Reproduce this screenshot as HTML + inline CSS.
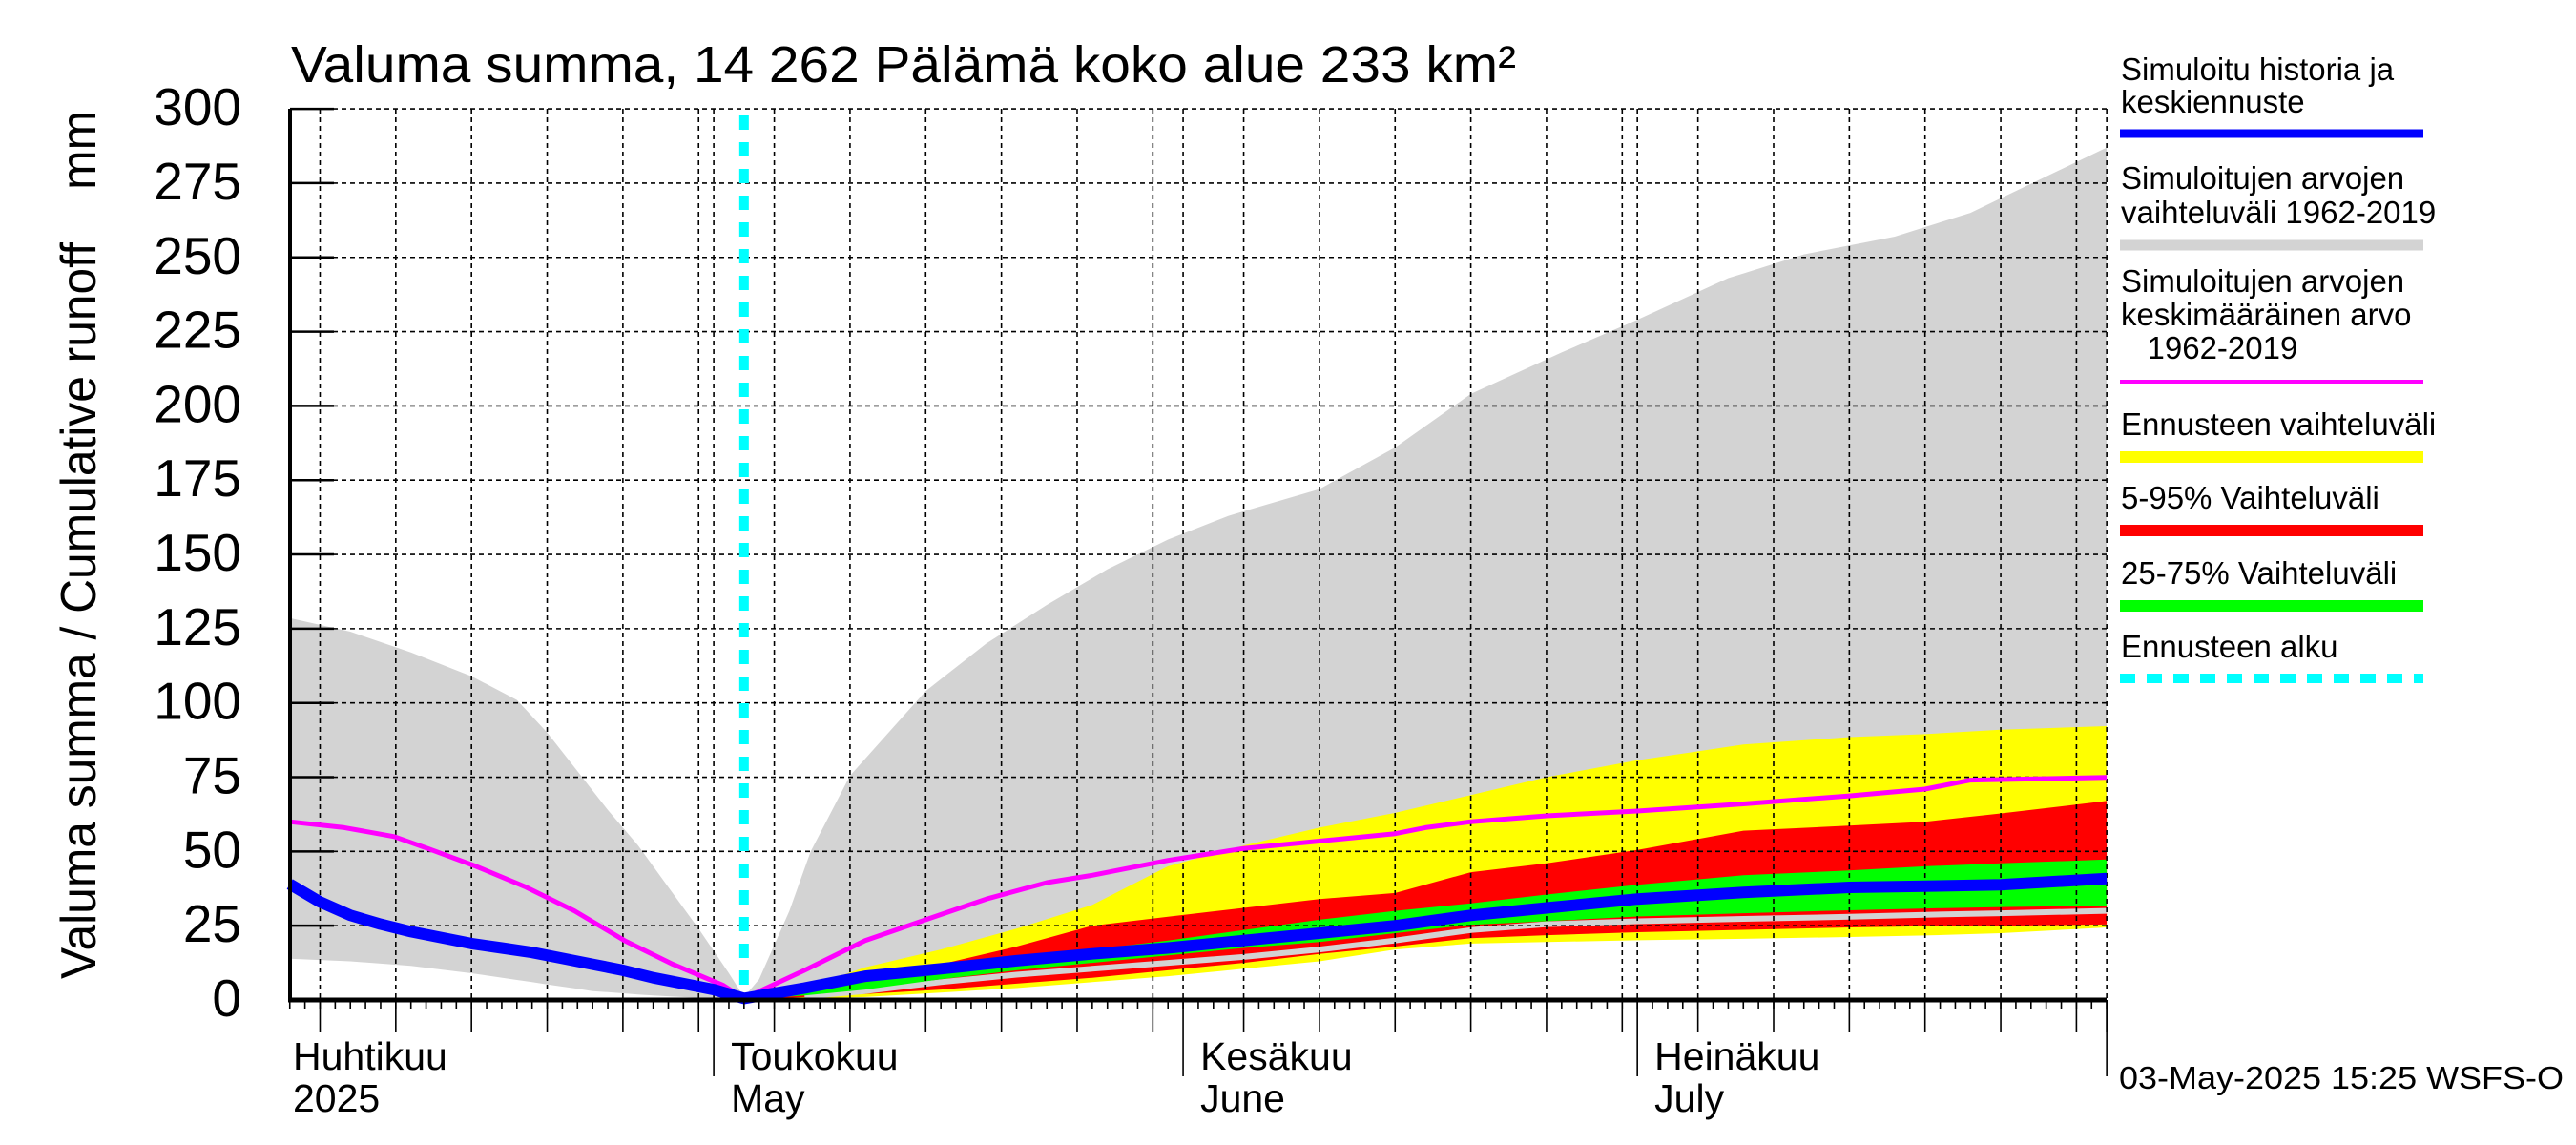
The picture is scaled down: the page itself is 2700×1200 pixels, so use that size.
<!DOCTYPE html>
<html><head><meta charset="utf-8"><style>
html,body{margin:0;padding:0;background:#fff;}
svg{display:block;font-family:"Liberation Sans",Arial,sans-serif;}
</style></head><body>
<svg id="chart" width="2700" height="1200" viewBox="0 0 2700 1200" xmlns="http://www.w3.org/2000/svg">
<rect x="0" y="0" width="2700" height="1200" fill="#fff"/>
<g id="plot"></g>
<g id="axes"></g>
<text x="305" y="86" font-size="54" textLength="1284" lengthAdjust="spacingAndGlyphs">Valuma summa, 14 262 Pälämä koko alue 233 km²</text>
<text transform="translate(100,1026) rotate(-90)" font-size="52" textLength="910" lengthAdjust="spacingAndGlyphs" xml:space="preserve" style="white-space:pre">Valuma summa / Cumulative runoff    mm</text>
<g id="legend"></g>
<text x="2221" y="1141" font-size="33" textLength="466" lengthAdjust="spacingAndGlyphs">03-May-2025 15:25 WSFS-O</text>
</svg>
<script>
// ---- data (t = days since 1 April 2025, values in mm) ----
const histT = [2,4,6,8,10,12,14,16,18,20,22,24,26,28,30,32];
const histMedian = [39,33,28.5,25.5,23,21,19,17.5,16,14,12,10,7.5,5.5,3.5,0.5];
const meanT = [2,5.6,8.9,11.1,14.3,17.6,20.8,24.1,27.3,30.6,32,36,40,44,48,52,55,60,65,70,75,77,80,85,91,98,105,110,113,122];
const meanVals = [60,58,55,51,45,38,30,20,12,5,0.5,10,20,27,34,39.5,42,47,51,53.5,56,58,60,62,63.6,66,68.7,71,74,74.9];
const simT = [2,6,10,14,17,19,21,23,25,27,29,31,32,33,35,36.4,39,44,48,52,56,60,64,70,75,80,86,91,97,102,108,113,122];
const simMax = [128.6,124,117,109,101,90,77,64,52,38,24,9,1,7,30,50,75.5,104,120,133,145,155,163,172,186,204,218,229,243,251,257,265,287];
const minT = [2,6,10,14,18,22,26,30,32,36,40,45,50,55,60,65,70,75,80,85,91,98,105,110,115,122];
const simMin = [13.9,13,11.5,9,6,3,1.5,0.5,0,1.2,3,6,8.5,10.5,12.5,14.5,17,20,23.5,25.5,26.5,27.3,28,28.7,29.2,30];
const fcT = [32,36,40,45,50,55,60,65,70,75,80,85,91,98,105,110,115,122];
const fcMax = [0,4,11,17,24,32,45,52,58,63,69,75,80.7,86,88.5,89.5,91,92.2];
const fcMin = [0,0.5,1,2.5,4,6,8,10.5,13,17,19,19.5,20.1,20.6,21.2,21.7,22.5,24.4];
const p95 = [0,3,7,12,18,25,28,31,34,36,43,46,50.5,57,58.7,60,62.8,67];
const p5 = [0,1,2,3.5,5.5,7.5,10,12.5,15.5,18,20.8,21.8,22.8,23.6,24.4,24.8,25,25.4];
const p75 = [0,3,6,10,14,17,20,23.5,27,30,32.5,35.5,38.8,42,43.6,45,46,47.3];
const p25 = [0,1.5,3.5,7,10,12.5,15,17.5,19.5,22.5,25.3,26.5,28.1,29.2,30.2,30.8,31.3,31.8];
const fcMedian = [0.5,4,8,10.5,13.2,15.5,17.5,20,22.5,25,28.5,31,34,36.2,37.9,38.3,38.8,40.9];
const yTicks = [0,25,50,75,100,125,150,175,200,225,250,275,300];
const monthStarts = [0,30,61,91,122];
const monthFi = ["Huhtikuu","Toukokuu","Kesäkuu","Heinäkuu"];
const monthEn = ["2025","May","June","July"];
const forecastStartT = 32;

// ---- scales ----
const X0=272, DX=15.87, Y0=1048, KY=3.113, LEFT=304, RIGHT=2208, TOP=114;
const x = t => X0 + DX*t;
const y = v => Y0 - KY*v;
const NS='http://www.w3.org/2000/svg';
function mk(tag, parent){const e=document.createElementNS(NS,tag);parent.appendChild(e);return e;}
const plot=document.getElementById('plot'), axes=document.getElementById('axes'), legend=document.getElementById('legend');

function band(ts, lo, hi, color, name){
  let d='M'+ts.map((t,i)=>x(t).toFixed(1)+','+y(hi[i]).toFixed(1)).join('L');
  for(let i=ts.length-1;i>=0;i--) d+='L'+x(ts[i]).toFixed(1)+','+y(lo[i]).toFixed(1);
  const p=mk('path',plot); p.setAttribute('d',d+'Z'); p.setAttribute('fill',color);
  
  
}
function line(ts, vs, color, w, name){
  const p=mk('path',plot);
  p.setAttribute('d','M'+ts.map((t,i)=>x(t).toFixed(1)+','+y(vs[i]).toFixed(1)).join('L'));
  p.setAttribute('fill','none'); p.setAttribute('stroke',color); p.setAttribute('stroke-width',w);
  p.setAttribute('stroke-linejoin','round');
  
  
}
function interp(ts, vs, t){ if(t<=ts[0])return vs[0]; for(let i=1;i<ts.length;i++){ if(t<=ts[i]){const f=(t-ts[i-1])/(ts[i]-ts[i-1]);return vs[i-1]+f*(vs[i]-vs[i-1]);}} return vs[vs.length-1]; }
const allT=[...new Set([...simT,...minT])].sort((a,b)=>a-b);
band(allT, allT.map(t=>interp(minT,simMin,t)), allT.map(t=>interp(simT,simMax,t)), '#d3d3d3', 'simulated-range-band');
band(fcT, fcMin, fcMax, '#ffff00', 'forecast-range-band');
band(fcT, p5, p95, '#ff0000', 'band-5-95');
const gT=minT.filter(t=>t>=forecastStartT+3), gV=simMin.filter((v,i)=>minT[i]>=forecastStartT+3);
line(gT, gV, '#d3d3d3', 6, 'simulated-min-line');
band(fcT, p25, p75, '#00ff00', 'band-25-75');

// grid
for(const v of yTicks){ if(v===0)continue;
  const l=mk('line',plot); l.setAttribute('x1',LEFT); l.setAttribute('x2',RIGHT); l.setAttribute('y1',y(v)); l.setAttribute('y2',y(v));
  l.setAttribute('stroke','#000'); l.setAttribute('stroke-width','1.6'); l.setAttribute('stroke-dasharray','5 4');
  
  
}
const gridDays=[];
for(let m=0;m<4;m++){ for(let d=5;d<=30;d+=5){ gridDays.push(monthStarts[m]+d-1); } }
gridDays.push(122);
for(const t of gridDays){ if(x(t)<LEFT)continue;
  const l=mk('line',plot); l.setAttribute('x1',x(t)); l.setAttribute('x2',x(t)); l.setAttribute('y1',TOP); l.setAttribute('y2',Y0);
  l.setAttribute('stroke','#000'); l.setAttribute('stroke-width','1.6'); l.setAttribute('stroke-dasharray','5 4');
  
  
}
for(const t of monthStarts.slice(1,4)){
  const l=mk('line',plot); l.setAttribute('x1',x(t)); l.setAttribute('x2',x(t)); l.setAttribute('y1',TOP); l.setAttribute('y2',Y0);
  l.setAttribute('stroke','#000'); l.setAttribute('stroke-width','1.6'); l.setAttribute('stroke-dasharray','5 4');
  
  
}

line(meanT, meanVals, '#ff00ff', 5, 'simulated-mean-line');
line(histT.concat(fcT.slice(1)), histMedian.concat(fcMedian.slice(1)), '#0000ff', 12, 'median-line');

// forecast start
const cy=mk('line',plot); cy.setAttribute('x1',x(forecastStartT)); cy.setAttribute('x2',x(forecastStartT));
cy.setAttribute('y1',TOP+7); cy.setAttribute('y2',Y0-8); cy.setAttribute('stroke','#00ffff'); cy.setAttribute('stroke-width','10'); cy.setAttribute('stroke-dasharray','15 13');



// axes
function seg(x1,y1,x2,y2,w,name){const l=mk('line',axes); l.setAttribute('x1',x1);l.setAttribute('y1',y1);l.setAttribute('x2',x2);l.setAttribute('y2',y2);l.setAttribute('stroke','#000');l.setAttribute('stroke-width',w);
  
  }
seg(LEFT,TOP,LEFT,Y0+2,4,'y-axis-line');
seg(LEFT-2,Y0,RIGHT,Y0,5,'x-axis-line');
for(const v of yTicks){
  seg(LEFT,y(v),LEFT+46,y(v),2.5,'y-tick');
  const tx=mk('text',axes); tx.setAttribute('x',253); tx.setAttribute('y',y(v)+17); tx.setAttribute('font-size','55'); tx.setAttribute('text-anchor','end');
  tx.textContent=v;
  
  
}
for(let t=2;t<=122;t++){ seg(x(t),Y0,x(t),Y0+9,1.6,'x-minor-tick'); }
for(const t of gridDays){ if(x(t)>=LEFT) seg(x(t),Y0,x(t),Y0+34,1.6,'x-major-tick'); }
for(const t of monthStarts.slice(1)){ seg(x(t),Y0,x(t),Y0+80,1.6,'month-tick'); }
for(let m=0;m<4;m++){
  const lx = m===0 ? 307 : x(monthStarts[m])+18;
  const a=mk('text',axes); a.setAttribute('x',lx); a.setAttribute('y',1121); a.setAttribute('font-size','41'); a.textContent=monthFi[m];
  
  
  const b=mk('text',axes); b.setAttribute('x',lx); b.setAttribute('y',1165); b.setAttribute('font-size','41'); b.textContent=monthEn[m];
  
  
}

// legend
const legItems=[
  {lines:["Simuloitu historia ja","keskiennuste"], base:[84,118], ly:140, color:'#0000ff', w:9, dash:null},
  {lines:["Simuloitujen arvojen","vaihteluväli 1962-2019"], base:[198,234], ly:257, color:'#d3d3d3', w:11, dash:null},
  {lines:["Simuloitujen arvojen","keskimääräinen arvo","   1962-2019"], base:[306,341,376], ly:400, color:'#ff00ff', w:4, dash:null},
  {lines:["Ennusteen vaihteluväli"], base:[456], ly:479, color:'#ffff00', w:12, dash:null},
  {lines:["5-95% Vaihteluväli"], base:[533], ly:556, color:'#ff0000', w:12, dash:null},
  {lines:["25-75% Vaihteluväli"], base:[612], ly:635, color:'#00ff00', w:12, dash:null},
  {lines:["Ennusteen alku"], base:[689], ly:711, color:'#00ffff', w:10, dash:'16 12'}
];
for(const it of legItems){
  it.lines.forEach((s,i)=>{const t=mk('text',legend); t.setAttribute('x',2223); t.setAttribute('y',it.base[i]); t.setAttribute('font-size','33'); t.setAttribute('xml:space','preserve'); t.style.whiteSpace='pre'; t.textContent=s;
    
    });
  const l=mk('line',legend); l.setAttribute('x1',2222); l.setAttribute('x2',2540); l.setAttribute('y1',it.ly); l.setAttribute('y2',it.ly);
  l.setAttribute('stroke',it.color); l.setAttribute('stroke-width',it.w); if(it.dash) l.setAttribute('stroke-dasharray',it.dash);
  
  
}
</script>
</body></html>
